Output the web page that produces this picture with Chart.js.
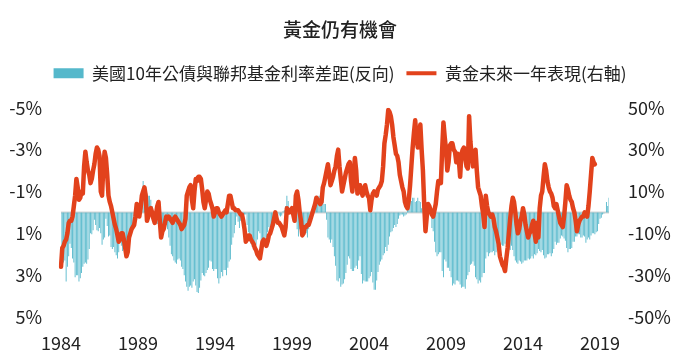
<!DOCTYPE html>
<html><head><meta charset="utf-8">
<script src="https://cdn.jsdelivr.net/npm/chart.js@4.4.1/dist/chart.umd.min.js"></script>
<style>html,body{margin:0;padding:0;background:#fff;}#wrap{width:680px;height:362px;}</style>
</head><body><div id="wrap"><canvas id="c" width="680" height="362"></canvas></div>
<script>
const titleText = '黃金仍有機會';
const seriesNames = ['美國10年公債與聯邦基金利率差距(反向)', '黃金未來一年表現(右軸)'];
const tickYears = [1984, 1989, 1994, 1999, 2004, 2009, 2014, 2019];
const leftTicks = [-5, -3, -1, 1, 3, 5];
const rightTicks = [50, 30, 10, -10, -30, -50];

// 10Y minus Fed funds spread (%), monthly from Jan 1984
const spread = [
  2.1,2.25,2.4,2.3,3.3,2.6,2.1,1.5,1.7,2.2,2.4,3.1,
  3.0,3.0,3.3,3.15,2.9,2.6,2.45,2.4,2.45,2.25,1.75,1.0,
  1.05,0.85,0.35,0.6,0.85,0.9,0.75,1.0,1.55,1.3,1.2,0.3,
  0.65,1.15,1.1,1.65,1.75,1.65,1.9,2.05,2.2,1.9,1.4,1.6,
  1.85,1.65,1.8,1.85,2.0,1.4,1.3,1.0,0.8,0.5,0.6,0.35,
  -0.05,-0.2,-0.6,-0.9,-1.5,-1.25,-1.2,-0.9,-0.8,-0.8,-0.6,-0.3,
  0.0,0.25,0.3,0.55,0.6,0.2,0.35,0.6,0.7,0.6,0.6,0.8,
  1.2,1.6,2.0,2.1,2.3,2.4,2.45,2.25,2.2,2.3,2.6,2.7,
  3.0,3.3,3.55,3.75,3.55,3.5,3.6,3.3,3.2,3.5,3.8,3.85,
  3.6,3.25,2.9,3.0,3.05,2.9,2.75,2.65,2.3,2.35,2.7,2.8,
  2.7,2.7,3.15,3.4,3.15,2.85,3.05,2.75,2.75,3.0,2.65,2.35,
  2.25,1.55,1.2,1.0,0.6,0.2,0.45,0.75,0.4,0.3,0.15,0.1,
  0.1,0.6,0.95,1.3,1.5,1.65,1.45,1.4,1.55,1.3,0.9,1.0,
  1.35,1.25,1.3,1.4,1.2,0.95,0.7,0.75,0.65,0.55,0.35,0.3,
  0.0,0.05,0.15,0.2,0.15,-0.05,-0.1,-0.3,-0.8,-0.55,0.0,-0.05,
  0.1,0.25,0.4,0.45,0.8,1.15,0.8,0.85,0.7,0.9,0.6,1.0,
  1.2,0.8,0.4,-0.05,0.15,-0.45,-0.5,-0.7,-0.75,-0.8,-0.8,-1.1,
  -0.8,-0.4,-0.4,0.35,1.2,1.3,1.45,1.3,1.65,2.1,2.55,3.25,
  3.3,3.15,3.55,3.45,3.4,3.2,2.9,2.5,2.1,2.2,2.7,2.8,
  2.8,2.65,2.55,2.7,2.3,2.1,2.95,3.4,3.25,3.3,3.3,3.3,
  3.15,3.05,2.85,3.35,3.7,3.7,3.25,2.85,2.5,2.35,2.25,2.05,
  1.95,1.65,1.85,1.55,1.15,0.95,0.9,0.75,0.6,0.7,0.55,0.3,
  0.15,0.1,0.1,0.2,0.15,0.1,-0.2,-0.45,-0.6,-0.55,-0.7,-0.7,
  -0.5,-0.55,-0.7,-0.55,-0.5,-0.2,-0.3,-0.35,-0.4,-0.2,-0.3,-0.1,
  -0.1,0.75,0.9,1.4,1.9,2.1,2.0,1.9,1.9,2.8,3.1,2.25,
  2.35,2.65,2.65,2.8,3.1,3.5,3.4,3.45,3.25,3.25,3.3,3.45,
  3.6,3.55,3.55,3.65,3.2,3.0,2.85,2.5,2.45,2.35,2.55,3.1,
  3.2,3.4,3.25,3.35,3.1,2.9,2.9,2.2,1.9,2.1,1.95,1.9,
  1.9,1.85,2.05,1.9,1.65,1.45,1.35,1.55,1.6,1.6,1.5,1.55,
  1.75,1.8,1.8,1.6,1.8,2.1,2.3,2.4,2.45,2.3,2.35,2.45,
  2.4,2.3,2.3,2.3,2.2,2.25,2.2,2.1,2.2,2.0,2.05,1.95,
  1.75,1.85,1.9,1.8,2.05,2.2,2.15,2.0,2.0,1.95,2.1,1.95,
  1.75,1.4,1.55,1.45,1.45,1.25,1.1,1.15,1.25,1.35,1.7,1.9,
  1.75,1.75,1.7,1.4,1.4,1.15,1.15,1.05,1.05,1.2,1.2,1.1,
  1.15,1.45,1.3,1.2,1.3,1.1,1.0,1.0,1.05,0.95,0.9,0.55,
  0.3,0.25,0.1,0.05,0.02,-0.5,-0.3,-0.7
];

// Gold forward 12-month return (%), monthly from Jan 1984
const goldFwd = [
  -26,-17,-16,-14,-13,-10,-5,-4,-4,-2,3,8,
  16,12,6,7,10,9,22,29,24,20,18,14,
  16,20,23,28,31,30,27,10,8,22,29,26,
  18,8,5,3,0,-3,-6,-8,-11,-14,-13,-10,
  -10,-13,-17,-21,-19,-12,-10,-8,-7,-6,-2,4,
  3,-2,2,8,10,12,8,-4,-2,1,2,0,
  -3,-5,-1,3,5,-4,-12,-9,-8,-5,-2,-3,
  -2,-3,-4,-5,-3,-2,-3,-4,-5,-6,-8,-7,
  -6,-3,8,10,12,13,6,2,10,16,15,17,
  17,16,11,5,2,6,10,9,6,4,2,-2,
  0,2,2,0,-1,-2,-1,0,1,0,4,8,
  8,5,2,2,1,1,1,0,-1,-1,-4,-8,
  -14,-13,-11,-11,-13,-14,-15,-17,-18,-20,-21,-22,
  -18,-14,-13,-15,-16,-14,-11,-10,-8,-6,-3,0,
  -3,-5,-5,-6,-7,-9,-11,-7,2,1,0,1,
  2,-1,-4,8,10,6,0,-4,-11,-10,-7,-7,
  -6,-6,-4,-2,0,2,4,7,6,5,4,5,
  12,14,17,20,23,18,13,15,17,20,22,27,
  30,22,16,10,13,16,19,21,23,24,15,10,
  18,26,20,9,11,13,10,8,11,13,10,8,
  7,1,6,9,10,9,8,11,12,13,15,22,
  33,37,42,49,48,46,42,36,32,28,27,24,
  18,15,12,10,5,3,2,6,13,22,31,38,
  44,36,31,38,42,30,20,4,-9,-2,4,3,
  1,-1,-2,1,4,10,15,15,14,30,43,36,
  30,20,24,32,33,33,30,29,24,28,25,17,
  28,30,31,26,22,21,46,34,27,22,25,30,
  20,12,10,8,3,-1,-7,8,3,0,-1,-2,
  -1,-3,-7,-9,-12,-15,-21,-23,-25,-26,-28,-22,
  -17,-10,-3,3,7,5,0,-6,-10,-8,-4,-2,
  2,-1,-6,-9,-12,-10,-9,-6,-4,-10,-14,-5,
  -12,2,8,10,17,23,20,15,12,10,9,7,
  3,2,4,1,-2,-5,-6,-7,-2,5,13,11,
  8,6,5,2,0,-4,-9,-6,-4,-3,-2,-2,
  0,-1,-2,3,10,18,26,24,23
];

const months = [];
for (let i = 0; i < spread.length; i++) {
  const y = 1984 + Math.floor(i / 12), m = (i % 12) + 1;
  months.push(y + '-' + String(m).padStart(2, '0'));
}

const barColor = '#55b8cb';
const lineColor = '#e2421c';
const textColor = '#222222';
const FONT = "'Noto Sans CJK TC', 'Noto Sans', sans-serif";

const zeroLine = {
  id: 'zeroLine',
  beforeDatasetsDraw(chart) {
    const {ctx, chartArea: a, scales: {y}} = chart;
    const py = y.getPixelForValue(0);
    ctx.save();
    ctx.strokeStyle = '#d6d6d6';
    ctx.lineWidth = 2;
    ctx.beginPath();
    ctx.moveTo(a.left, py);
    ctx.lineTo(a.right, py);
    ctx.stroke();
    ctx.restore();
  }
};

new Chart(document.getElementById('c'), {
  type: 'bar',
  data: {
    labels: months,
    datasets: [
      {
        type: 'bar',
        label: seriesNames[0],
        data: spread,
        yAxisID: 'y',
        backgroundColor: barColor,
        borderWidth: 0,
        barPercentage: 0.7,
        categoryPercentage: 1.0,
        order: 1
      },
      {
        type: 'line',
        label: seriesNames[1],
        data: goldFwd,
        yAxisID: 'y2',
        borderColor: lineColor,
        backgroundColor: lineColor,
        borderWidth: 4.5,
        tension: 0,
        pointRadius: 0,
        pointHoverRadius: 0,
        borderJoinStyle: 'round',
        borderCapStyle: 'round',
        order: 0
      }
    ]
  },
  options: {
    responsive: false,
    devicePixelRatio: 1,
    animation: false,
    layout: {padding: {top: 0, left: 0, right: 0, bottom: 0}},
    plugins: {
      title: {
        display: true,
        text: titleText,
        color: textColor,
        font: {family: FONT, size: 19, weight: 500},
        padding: {top: 18, bottom: 12}
      },
      legend: {
        display: true,
        position: 'top',
        labels: {
          color: textColor,
          font: {family: FONT, size: 17},
          usePointStyle: true,
          pointStyleWidth: 30,
          boxHeight: 10,
          padding: 12,
          sort: (a, b) => a.datasetIndex - b.datasetIndex,
          generateLabels(chart) {
            const items = Chart.defaults.plugins.legend.labels.generateLabels(chart);
            items.forEach(it => {
              if (it.datasetIndex === 0) {
                it.pointStyle = 'rect'; it.lineWidth = 0; it.fillStyle = barColor; it.strokeStyle = barColor;
              } else {
                it.pointStyle = 'line'; it.lineWidth = 4; it.strokeStyle = lineColor; it.fillStyle = lineColor;
              }
            });
            return items;
          }
        }
      },
      subtitle: {
        display: true,
        text: '',
        weight: 500,
        font: {size: 1},
        padding: {top: 0, bottom: 14.8}
      },
      tooltip: {enabled: false}
    },
    scales: {
      x: {
        type: 'category',
        offset: false,
        grid: {display: false, drawTicks: false},
        border: {display: false},
        ticks: {
          autoSkip: false,
          maxRotation: 0,
          minRotation: 0,
          padding: 15,
          color: textColor,
          font: {family: FONT, size: 18},
          callback(val, idx) {
            const lab = months[idx];
            if (!lab) return '';
            const yr = +lab.slice(0, 4);
            return (lab.endsWith('-01') && tickYears.includes(yr)) ? String(yr) : '';
          }
        },
        afterFit(s) { s.height = 45; }
      },
      y: {
        type: 'linear',
        position: 'left',
        reverse: true,
        min: -5,
        max: 5,
        grid: {display: false, drawTicks: false},
        border: {display: false},
        ticks: {
          padding: 19,
          color: textColor,
          font: {family: FONT, size: 18},
          callback: v => v + '%'
        },
        afterBuildTicks(s) { s.ticks = leftTicks.map(v => ({value: v})); },
        afterFit(s) { s.width = 61; }
      },
      y2: {
        type: 'linear',
        position: 'right',
        min: -50,
        max: 50,
        grid: {display: false, drawTicks: false},
        border: {display: false},
        ticks: {
          padding: 19,
          color: textColor,
          font: {family: FONT, size: 18},
          callback: v => v + '%'
        },
        afterBuildTicks(s) { s.ticks = rightTicks.map(v => ({value: v})); },
        afterFit(s) { s.width = 71; }
      }
    }
  },
  plugins: [zeroLine]
});
</script>
</body></html>
